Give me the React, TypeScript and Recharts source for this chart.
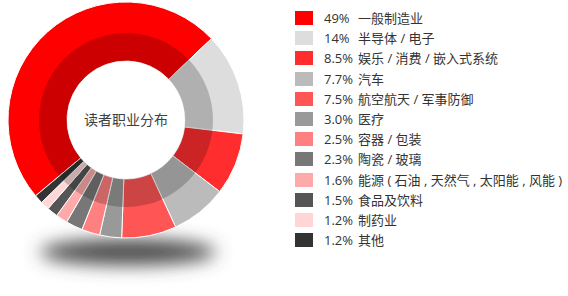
import React from 'react';
import { PieChart, Pie, Cell, Legend } from 'recharts';

const categories = [
  '一般制造业',
  '半导体 / 电子',
  '娱乐 / 消费 / 嵌入式系统',
  '汽车',
  '航空航天 / 军事防御',
  '医疗',
  '容器 / 包装',
  '陶瓷 / 玻璃',
  '能源 ( 石油 , 天然气 , 太阳能 , 风能 )',
  '食品及饮料',
  '制药业',
  '其他',
];
const values = [49, 14, 8.5, 7.7, 7.5, 3.0, 2.5, 2.3, 1.6, 1.5, 1.2, 1.2];
const percentLabels = ['49%', '14%', '8.5%', '7.7%', '7.5%', '3.0%', '2.5%', '2.3%', '1.6%', '1.5%', '1.2%', '1.2%'];
const colors = ['#ff0000', '#dddddd', '#ff2d2d', '#bbbbbb', '#ff5555', '#999999', '#ff8080', '#777777', '#ffaaaa', '#555555', '#ffd5d5', '#333333'];
const centerTitle = '读者职业分布';

const data = categories.map((name, i) => ({ name, value: values[i] }));
const overlay = [{ name: 'overlay', value: 1 }];

const FONT = '"Open Sans", "Noto Sans CJK SC", sans-serif';

const LegendContent = () => (
  <div style={{ position: 'relative', width: 272, height: 260, fontFamily: FONT, fontSize: 13, color: '#333' }}>
    {categories.map((name, i) => {
      const cy = 18 + i * 20.2;
      return (
        <React.Fragment key={name}>
          <div style={{ position: 'absolute', left: 0, top: cy - 7, width: 18, height: 14, background: colors[i] }} />
          <div style={{ position: 'absolute', left: 29, top: cy - 10, lineHeight: '20px', whiteSpace: 'nowrap' }}>{percentLabels[i]}</div>
          <div style={{ position: 'absolute', left: 63, top: cy - 10, lineHeight: '20px', whiteSpace: 'nowrap' }}>{name}</div>
        </React.Fragment>
      );
    })}
  </div>
);

export default function App() {
  return (
    <div style={{ position: 'absolute', left: 0, top: 0, width: 568, height: 296, background: '#fff' }}>
      <svg width={568} height={296} style={{ position: 'absolute', left: 0, top: 0 }}>
        <defs>
          <filter id="shadowBlur" x="-50%" y="-100%" width="200%" height="300%">
            <feGaussianBlur stdDeviation="9" />
          </filter>
        </defs>
        <ellipse cx={128} cy={252} rx={88} ry={13} fill="#4a4a4a" filter="url(#shadowBlur)" />
      </svg>
      <div style={{ position: 'absolute', left: 0, top: 0 }}>
        <PieChart width={568} height={296} margin={{ top: 0, right: 0, bottom: 0, left: 0 }}>
          <Pie
            data={data}
            dataKey="value"
            nameKey="name"
            cx={126}
            cy={120}
            innerRadius={59}
            outerRadius={118}
            startAngle={220}
            endAngle={-140}
            stroke="#ffffff"
            strokeWidth={1}
            isAnimationActive={false}
          >
            {data.map((d, i) => (
              <Cell key={d.name} fill={colors[i]} />
            ))}
          </Pie>
          <Pie
            data={overlay}
            dataKey="value"
            cx={126}
            cy={120}
            innerRadius={59}
            outerRadius={87}
            startAngle={90}
            endAngle={-270}
            fill="#000000"
            fillOpacity={0.2}
            stroke="none"
            legendType="none"
            isAnimationActive={false}
          />
          <Legend
            layout="vertical"
            verticalAlign="top"
            align="right"
            content={<LegendContent />}
            wrapperStyle={{ left: 295, top: 0, width: 272 }}
          />
        </PieChart>
      </div>
      <div
        style={{
          position: 'absolute',
          left: 66,
          top: 110,
          width: 120,
          height: 20,
          lineHeight: '20px',
          textAlign: 'center',
          fontFamily: FONT,
          fontSize: 14,
          color: '#404040',
          pointerEvents: 'none',
        }}
      >
        {centerTitle}
      </div>
    </div>
  );
}
